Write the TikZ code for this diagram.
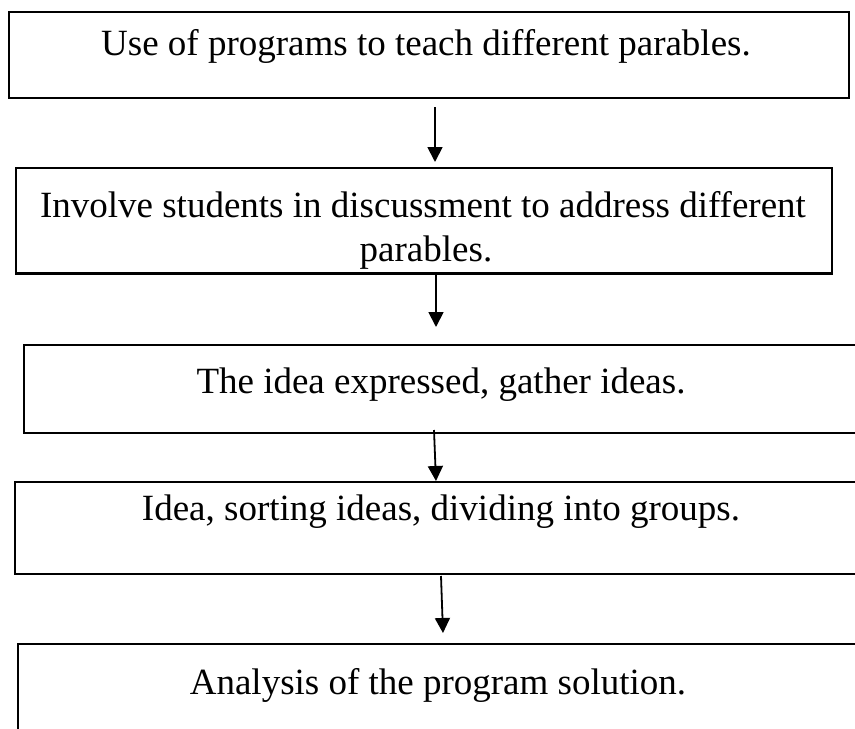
\documentclass[tikz,border=0pt]{standalone}
\usepackage{fontspec}
\setmainfont{Liberation Serif}
\usetikzlibrary{arrows.meta}
\begin{document}
\begin{tikzpicture}[x=1pt,y=-1pt,
  boxline/.style={draw=black,line width=1.8pt,inner sep=0pt,anchor=north west},
  lbl/.style={font=\fontsize{37}{42}\selectfont,anchor=base,inner sep=0pt},
  flow/.style={line width=1.8pt,-{Triangle[length=15pt,width=15pt]}}]
\useasboundingbox (0,0) rectangle (855,729);
\clip (0,0) rectangle (855,729);
% boxes
\node[boxline,minimum width=840pt,minimum height=86pt] (b1) at (8,11) {};
\node[boxline,minimum width=816pt,minimum height=105pt] (b2) at (15,167) {};
\node[boxline,minimum width=900pt,minimum height=88pt] (b3) at (23,344) {};
\node[boxline,minimum width=950pt,minimum height=92pt] (b4) at (14,481) {};
\node[boxline,minimum width=940pt,minimum height=120pt] (b5) at (17,643) {};
% texts
\node[lbl] (t1) at (426,55) {Use of programs to teach different parables.};
\begin{scope}
\clip (b2.north west) rectangle (b2.south east);
\node[lbl] (t2a) at (423,217) {Involve students in discussment to address different};
\node[lbl] (t2b) at (426,261) {parables.};
\end{scope}
\node[lbl] (t3) at (441,393) {The idea expressed, gather ideas.};
\node[lbl] (t4) at (441,520) {Idea, sorting ideas, dividing into groups.};
\node[lbl] (t5) at (438,694) {Analysis of the program solution.};
% repaint box2 bottom over the text
\draw[line width=1.8pt] (b2.south west) -- (b2.south east);
% arrows
\coordinate (a1s) at (435,107);
\coordinate (a1e) at (435,162);
\coordinate (a2s) at (436,272);
\coordinate (a2e) at (436,327);
\coordinate (a3s) at (434,430);
\coordinate (a3e) at (436,481);
\coordinate (a4s) at (441,576);
\coordinate (a4e) at (443,633);
\draw[flow] (a1s) -- (a1e);
\draw[flow] (a2s) -- (a2e);
\draw[flow] (a3s) -- (a3e);
\draw[flow] (a4s) -- (a4e);
\end{tikzpicture}
\end{document}
